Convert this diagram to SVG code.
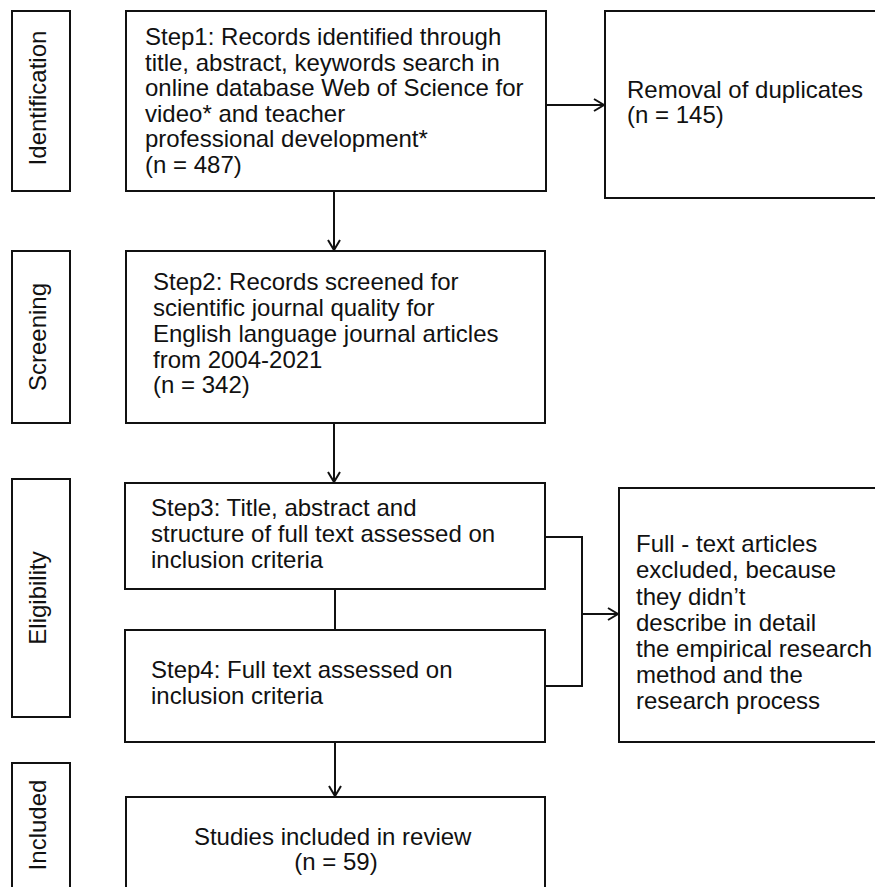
<svg xmlns="http://www.w3.org/2000/svg" width="875" height="887" viewBox="0 0 875 887">
<defs>
<style>
.box{fill:#fff;stroke:#111;stroke-width:2}
.t{font-family:"Liberation Sans",Arial,sans-serif;font-size:24px;fill:#111}
.c{fill:none;stroke:#111;stroke-width:2}
</style>
<marker id="ah" markerWidth="14" markerHeight="14" refX="11" refY="7" orient="auto" markerUnits="userSpaceOnUse">
<path d="M1,1 L11,7 L1,13" fill="none" stroke="#111" stroke-width="2"/>
</marker>
</defs>
<rect width="875" height="887" fill="#fff"/>

<g id="identification">
<rect class="box" x="12" y="11" width="58" height="180"/>
<text class="t" transform="translate(46,98) rotate(-90)" text-anchor="middle">Identification</text>
</g>
<g id="screening">
<rect class="box" x="12" y="251" width="58" height="172"/>
<text class="t" transform="translate(46,337) rotate(-90)" text-anchor="middle">Screening</text>
</g>
<g id="eligibility">
<rect class="box" x="12" y="479" width="58" height="238"/>
<text class="t" transform="translate(46,598) rotate(-90)" text-anchor="middle">Eligibility</text>
</g>
<g id="included">
<rect class="box" x="12" y="763" width="58" height="140"/>
<text class="t" transform="translate(46,825) rotate(-90)" text-anchor="middle">Included</text>
</g>

<g id="step1">
<rect class="box" x="126" y="11" width="420" height="180"/>
<text class="t">
<tspan x="145" y="45">Step1: Records identified through</tspan>
<tspan x="145" y="71">title, abstract, keywords search in</tspan>
<tspan x="145" y="96">online database Web of Science for</tspan>
<tspan x="145" y="122">video* and teacher</tspan>
<tspan x="145" y="147">professional development*</tspan>
<tspan x="145" y="173">(n = 487)</tspan>
</text>
</g>
<g id="removal">
<rect class="box" x="605" y="11" width="280" height="187"/>
<text class="t">
<tspan x="627" y="98">Removal of duplicates</tspan>
<tspan x="627" y="123">(n = 145)</tspan>
</text>
</g>
<g id="step2">
<rect class="box" x="126" y="251" width="419" height="172"/>
<text class="t">
<tspan x="153" y="290">Step2: Records screened for</tspan>
<tspan x="153" y="316">scientific journal quality for</tspan>
<tspan x="153" y="342">English language journal articles</tspan>
<tspan x="153" y="368">from 2004-2021</tspan>
<tspan x="153" y="393">(n = 342)</tspan>
</text>
</g>
<g id="step3">
<rect class="box" x="125" y="483" width="420" height="106"/>
<text class="t">
<tspan x="151" y="516">Step3: Title, abstract and</tspan>
<tspan x="151" y="542">structure of full text assessed on</tspan>
<tspan x="151" y="568">inclusion criteria</tspan>
</text>
</g>
<g id="step4">
<rect class="box" x="125" y="630" width="420" height="112"/>
<text class="t">
<tspan x="151" y="678">Step4: Full text assessed on</tspan>
<tspan x="151" y="704">inclusion criteria</tspan>
</text>
</g>
<g id="excluded">
<rect class="box" x="619" y="488" width="266" height="254"/>
<text class="t">
<tspan x="636" y="552">Full - text articles</tspan>
<tspan x="636" y="578">excluded, because</tspan>
<tspan x="636" y="605">they didn’t</tspan>
<tspan x="636" y="631">describe in detail</tspan>
<tspan x="636" y="657">the empirical research</tspan>
<tspan x="636" y="683">method and the</tspan>
<tspan x="636" y="709">research process</tspan>
</text>
</g>
<g id="final">
<rect class="box" x="126" y="797" width="419" height="110"/>
<text class="t" text-anchor="middle">
<tspan x="336" y="845">Studies included in review</tspan>
<tspan x="336" y="870">(n = 59)</tspan>
</text>
</g>

<g id="connectors">
<line class="c" x1="546" y1="105" x2="604" y2="105" marker-end="url(#ah)"/>
<line class="c" x1="334" y1="191" x2="334" y2="250" marker-end="url(#ah)"/>
<line class="c" x1="334" y1="423" x2="334" y2="482" marker-end="url(#ah)"/>
<line class="c" x1="335" y1="589" x2="335" y2="630"/>
<polyline class="c" points="545,537 582,537 582,686 545,686"/>
<line class="c" x1="582" y1="614" x2="618" y2="614" marker-end="url(#ah)"/>
<line class="c" x1="335" y1="742" x2="335" y2="796" marker-end="url(#ah)"/>
</g>
</svg>
